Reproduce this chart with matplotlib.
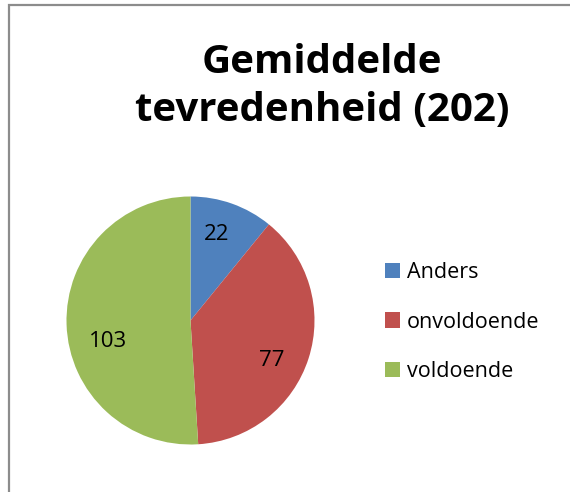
import matplotlib.pyplot as plt
from matplotlib.patches import Rectangle

categories = ['Anders', 'onvoldoende', 'voldoende']
values = [22, 77, 103]
colors = ['#4F81BD', '#C0504D', '#9BBB59']
title = 'Gemiddelde\ntevredenheid (202)'

plt.rcParams['font.family'] = ['Open Sans', 'DejaVu Sans']

W, H = 570, 492
fig = plt.figure(figsize=(W / 100, H / 100), dpi=100)

# frame (only left/top edge visible, chart is cropped)
fig.patches.append(Rectangle((9 / W, -0.1), 1.2, (H - 4.5) / H + 0.1,
                             transform=fig.transFigure, fill=False,
                             edgecolor='#8c8c8c', linewidth=1.6))

cx, cy, r = 190.5, 320.5, 124
total = sum(values)
ax = fig.add_axes([(cx - r) / W, (H - cy - r) / H, 2 * r / W, 2 * r / H])
wedges, texts, autotexts = ax.pie(values, colors=colors, startangle=90,
                                  counterclock=False, radius=1,
                                  autopct=lambda p: '%d' % round(p * total / 100),
                                  pctdistance=0.72,
                                  wedgeprops=dict(linewidth=0))
# nudge labels like excel's best fit (pixels)
nudge = [(-4, 2), (-4, -13), (7, -18)]
for t, (dx, dy) in zip(autotexts, nudge):
    t.set_fontsize(16)
    t.set_color('black')
    x, y = t.get_position()
    t.set_position((x + dx / r, y + dy / r))
ax.set_xlim(-1, 1)
ax.set_ylim(-1, 1)
ax.set_aspect('equal')
ax.axis('off')

fig.text(322 / W, 1 - 87 / H, title, ha='center', va='center',
         fontsize=29, fontweight='bold', linespacing=1.3)

fig.legend(wedges, categories, loc='center left',
           bbox_to_anchor=(385 / W, 1 - 322 / H), frameon=False,
           borderpad=0, borderaxespad=0,
           fontsize=15.5, handlelength=0.7, handleheight=0.7,
           handletextpad=0.33, labelspacing=1.32)

fig.savefig('out.png', dpi=100)
